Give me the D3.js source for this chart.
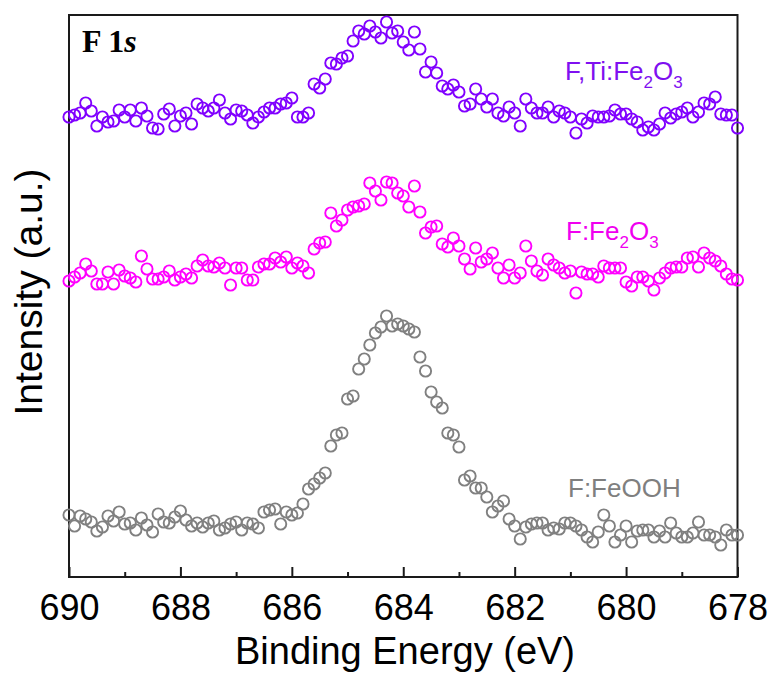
<!DOCTYPE html>
<html>
<head>
<meta charset="utf-8">
<script src="https://cdn.jsdelivr.net/npm/d3@7"></script>
<style>
  html, body { margin: 0; padding: 0; background: #ffffff; }
  svg { display: block; }
</style>
</head>
<body>
<svg id="chart" width="775" height="675"></svg>
<script>
// ---- Data ----
const energies = [
  690.0,689.9,689.8,689.7,689.6,689.5,689.4,689.3,689.2,689.1,
  689.0,688.9,688.8,688.7,688.6,688.5,688.4,688.3,688.2,688.1,
  688.0,687.9,687.8,687.7,687.6,687.5,687.4,687.3,687.2,687.1,
  687.0,686.9,686.8,686.7,686.6,686.5,686.4,686.3,686.2,686.1,
  686.0,685.9,685.8,685.7,685.6,685.5,685.4,685.3,685.2,685.1,
  685.0,684.9,684.8,684.7,684.6,684.5,684.4,684.3,684.2,684.1,
  684.0,683.9,683.8,683.7,683.6,683.5,683.4,683.3,683.2,683.1,
  683.0,682.9,682.8,682.7,682.6,682.5,682.4,682.3,682.2,682.1,
  682.0,681.9,681.8,681.7,681.6,681.5,681.4,681.3,681.2,681.1,
  681.0,680.9,680.8,680.7,680.6,680.5,680.4,680.3,680.2,680.1,
  680.0,679.9,679.8,679.7,679.6,679.5,679.4,679.3,679.2,679.1,
  679.0,678.9,678.8,678.7,678.6,678.5,678.4,678.3,678.2,678.1,
  678.0
];

// F,Ti:Fe2O3 (offset trace, a.u.)
const fTiFe2O3 = [
  460,462,464,474,466,451,460,455,456,467,
  460,467,456,469,461,449,448,463,468,451,
  461,464,453,473,469,466,469,477,464,458,
  467,466,462,454,460,465,469,469,473,474,
  479,460,460,464,493,489,498,514,513,519,
  521,536,546,543,551,545,539,555,544,546,
  535,527,545,528,505,515,504,491,488,492,
  485,471,473,488,478,470,478,464,461,470,
  464,451,478,469,464,464,470,460,466,464,
  460,444,458,454,461,460,460,461,467,463,
  463,458,455,447,450,447,453,464,459,463,
  465,469,460,465,474,473,480,463,462,462,
  449
];

// F:Fe2O3 (offset trace, a.u.)
const fFe2O3 = [
  296,300,304,313,306,293,293,305,293,307,
  301,299,295,321,308,298,298,300,306,297,
  300,303,299,311,317,311,310,314,309,292,
  309,309,297,297,310,313,313,319,315,320,
  309,314,311,304,328,334,335,364,351,357,
  367,370,371,373,394,386,377,395,394,384,
  381,370,391,365,344,350,351,333,330,339,
  331,318,308,329,315,318,324,309,299,312,
  299,304,331,316,306,302,318,312,309,304,
  306,284,305,303,303,300,311,309,309,309,
  295,291,300,300,296,287,299,304,309,310,
  310,319,320,310,324,319,316,311,303,298,
  297
];

// F:FeOOH (a.u.)
const fFeOOH = [
  62,51,61,58,55,46,50,61,56,65,
  53,54,47,59,52,45,63,55,54,60,
  66,57,51,54,50,54,56,47,49,53,
  55,47,54,53,49,65,67,68,53,65,
  62,64,73,88,93,99,104,131,142,144,
  178,181,208,218,232,244,250,261,251,253,
  251,248,245,220,206,185,175,169,144,142,
  130,97,101,89,89,80,65,71,76,58,
  51,38,50,53,54,54,47,49,48,54,
  54,51,47,40,35,45,62,51,35,42,
  51,35,46,47,47,40,46,40,54,44,
  40,40,44,55,42,42,40,32,47,42,
  42
];

const xTicksMajor = [690, 688, 686, 684, 682, 680, 678];
const xTicksMinor = [689, 687, 685, 683, 681, 679];

const seriesNames = ["F:FeOOH", "F:Fe2O3", "F,Ti:Fe2O3"];
const seriesColors = ["#808080", "#ff00ff", "#8000ff"];
const seriesValues = [fFeOOH, fFe2O3, fTiFe2O3];

// ---- Layout ----
const svg = d3.select("#chart");
const plot = { left: 69, right: 737.5, top: 15, bottom: 577 };

const x = d3.scaleLinear().domain([690, 678]).range([plot.left, plot.right]);
const y = d3.scaleLinear().domain([0, 562]).range([plot.bottom, plot.top]);

// Frame
svg.append("rect")
  .attr("x", plot.left).attr("y", plot.top)
  .attr("width", plot.right - plot.left).attr("height", plot.bottom - plot.top)
  .attr("fill", "none").attr("stroke", "#1a1a1a").attr("stroke-width", 2);

// Bottom axis: inward ticks
const axisMajor = d3.axisBottom(x).tickValues(xTicksMajor).tickSizeInner(-10).tickSizeOuter(0).tickPadding(0).tickFormat(d3.format("d"));
const gx = svg.append("g").attr("transform", `translate(0,${plot.bottom})`).call(axisMajor);
gx.select(".domain").remove();
gx.selectAll(".tick line").attr("stroke", "#1a1a1a").attr("stroke-width", 2);
gx.selectAll(".tick text")
  .attr("y", 43).attr("dy", null)
  .attr("font-family", "Arial, 'Liberation Sans', sans-serif")
  .attr("font-size", 36).attr("fill", "#000");

const axisMinor = d3.axisBottom(x).tickValues(xTicksMinor).tickSizeInner(-5).tickSizeOuter(0).tickFormat("");
const gxm = svg.append("g").attr("transform", `translate(0,${plot.bottom})`).call(axisMinor);
gxm.select(".domain").remove();
gxm.selectAll(".tick line").attr("stroke", "#1a1a1a").attr("stroke-width", 2);

// Axis titles
svg.append("text")
  .attr("x", 405).attr("y", 664)
  .attr("text-anchor", "middle")
  .attr("font-family", "Arial, 'Liberation Sans', sans-serif")
  .attr("font-size", 38).attr("fill", "#000")
  .text("Binding Energy (eV)");

svg.append("text")
  .attr("transform", "translate(42,292) rotate(-90)")
  .attr("text-anchor", "middle")
  .attr("font-family", "Arial, 'Liberation Sans', sans-serif")
  .attr("font-size", 39).attr("fill", "#000")
  .text("Intensity (a.u.)");

// Series markers
seriesValues.forEach((vals, si) => {
  svg.append("g")
    .selectAll("circle")
    .data(vals.map((v, i) => ({ e: energies[i], v })))
    .join("circle")
    .attr("cx", d => x(d.e))
    .attr("cy", d => y(d.v))
    .attr("r", 5.6)
    .attr("fill", "none")
    .attr("stroke", seriesColors[si])
    .attr("stroke-width", 1.9);
});

// Series labels
function chemLabel(px, py, parts, color) {
  const t = svg.append("text")
    .attr("x", px).attr("y", py)
    .attr("font-family", "Arial, 'Liberation Sans', sans-serif")
    .attr("font-size", 26).attr("fill", color);
  let sub = false;
  parts.forEach(p => {
    const isSub = p.sub === true;
    const ts = t.append("tspan").text(p.t);
    if (isSub && !sub) { ts.attr("dy", 8).attr("font-size", 17); }
    else if (isSub && sub) { ts.attr("font-size", 17); }
    else if (!isSub && sub) { ts.attr("dy", -8); }
    sub = isSub;
  });
}
chemLabel(565, 80, [{t: "F,Ti:Fe"}, {t: "2", sub: true}, {t: "O"}, {t: "3", sub: true}], "#7f10f0");
chemLabel(566, 240, [{t: "F:Fe"}, {t: "2", sub: true}, {t: "O"}, {t: "3", sub: true}], "#f000f0");
chemLabel(568, 497, [{t: "F:FeOOH"}], "#7f7f7f");

// Panel label "F 1s"
const pl = svg.append("text")
  .attr("x", 82).attr("y", 52)
  .attr("font-family", "'Times New Roman', 'Liberation Serif', serif")
  .attr("font-weight", "bold")
  .attr("font-size", 32).attr("fill", "#000");
pl.append("tspan").text("F 1");
pl.append("tspan").attr("font-style", "italic").text("s");
</script>
</body>
</html>
